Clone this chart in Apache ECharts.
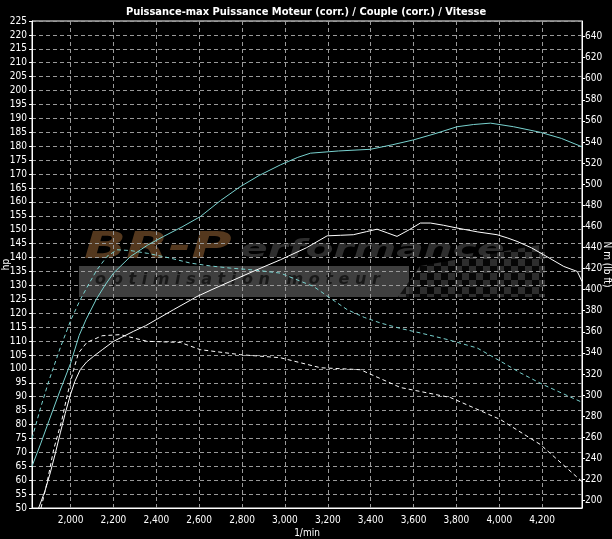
<!DOCTYPE html>
<html><head><meta charset="utf-8">
<script src="https://cdn.jsdelivr.net/npm/echarts@6/dist/echarts.min.js"></script>
<style>html,body{margin:0;padding:0;background:#000}#c{width:612px;height:539px}</style>
</head><body><div id="c"></div>
<script>
const titleText = 'Puissance-max Puissance Moteur (corr.) / Couple (corr.) / Vitesse';
const xName = '1/min';
const leftName = 'hp';
const rightName = 'N m (lb ft)';
const xTicks = [2000, 2200, 2400, 2600, 2800, 3000, 3200, 3400, 3600, 3800, 4000, 4200];
const rightTicks = [200, 220, 240, 260, 280, 300, 320, 340, 360, 380, 400, 420, 440, 460, 480, 500, 520, 540, 560, 580, 600, 620, 640];

// power-scale (left axis, hp) readings
const cyanSolidRpm = [1820, 1860, 1900, 1950, 2000, 2040, 2072, 2120, 2160, 2200, 2280, 2360, 2434, 2520, 2605, 2700, 2792, 2880, 2979, 3060, 3119, 3250, 3399, 3500, 3601, 3700, 3803, 3880, 3959, 4067, 4192, 4290, 4386];
const cyanSolidVal = [65, 73, 81.5, 92, 102, 112, 117.7, 125, 130, 134.4, 140.4, 144.5, 147.6, 151, 154.7, 160.5, 165.5, 169.5, 173.3, 176, 177.5, 178.3, 178.9, 180.5, 182.3, 184.5, 187, 187.8, 188.3, 187, 185, 182.8, 179.8];

const cyanDashRpm = [1820, 1860, 1900, 1952, 2002, 2045, 2085, 2123, 2170, 2217, 2280, 2360, 2465, 2559, 2650, 2745, 2860, 2979, 3050, 3134, 3210, 3290, 3370, 3445, 3540, 3632, 3760, 3897, 4000, 4100, 4200, 4300, 4386];
const cyanDashVal = [75, 86, 96, 107.6, 117.7, 124.8, 130.5, 135.6, 140.4, 142.8, 142.5, 141.5, 139.8, 138, 137, 136.2, 135.5, 134.4, 132.2, 129.6, 125.5, 121.3, 118.5, 116.5, 114.5, 112.9, 110.5, 107.5, 103, 98.5, 94.5, 91, 88];

const whiteSolidRpm = [1851, 1880, 1905, 1930, 1952, 1975, 1999, 2020, 2045, 2075, 2107, 2150, 2201, 2250, 2294, 2350, 2400, 2481, 2590, 2660, 2745, 2860, 2979, 3100, 3197, 3260, 3319, 3380, 3430, 3480, 3523, 3580, 3632, 3679, 3740, 3803, 3900, 3990, 4040, 4083, 4150, 4207, 4301, 4364, 4386];
const whiteSolidVal = [50, 56, 62.6, 70, 77, 84, 90.7, 95.5, 99.7, 102.5, 104.5, 107, 109.9, 111.8, 113.5, 115.5, 117.7, 121.3, 126, 128.5, 131.4, 135.3, 139.2, 143.5, 147.8, 148, 148.2, 149.3, 150.2, 148.8, 147.6, 150, 152.4, 152.4, 151.6, 150.6, 149.2, 148.2, 147, 145.8, 143.5, 141, 136.8, 135, 131.4];

const whiteDashRpm = [1862, 1890, 1921, 1960, 1983, 2014, 2037, 2076, 2147, 2232, 2294, 2357, 2512, 2605, 2792, 2979, 3166, 3352, 3539, 3772, 4005, 4192, 4386];
const whiteDashVal = [50, 59, 71, 81.8, 90.1, 99.7, 105.7, 109.5, 111.9, 112.3, 111.1, 109.9, 109.5, 106.9, 105.1, 104, 100.4, 99.7, 93.3, 89.7, 81.8, 72.8, 59.5];

const zip = (a, b) => a.map((v, i) => [v, b[i]]);
const F = "'Liberation Sans Narrow','DejaVu Sans Condensed','Liberation Sans',sans-serif";

// checkered pattern for the watermark flag
const pc = document.createElement('canvas');
pc.width = 14; pc.height = 14;
const g = pc.getContext('2d');
g.fillStyle = '#3a3a3a'; g.fillRect(0, 0, 14, 14);
g.fillStyle = '#080808'; g.fillRect(0, 0, 7, 7); g.fillRect(7, 7, 7, 7);

const chart = echarts.init(document.getElementById('c'), null, {renderer: 'canvas'});
const gridLine = {show: true, lineStyle: {color: '#9a9a9a', type: [4, 3], width: 1}};
chart.setOption({
  backgroundColor: '#000',
  animation: false,
  title: {text: titleText, left: 'center', top: 2, textStyle: {color: '#fff', fontFamily: F, fontSize: 11, fontWeight: 'bold'}},
  grid: {left: 32, right: 30, top: 21, bottom: 31, containLabel: false, outerBoundsMode: 'none',
    show: true, borderColor: '#fff', borderWidth: 1, backgroundColor: 'transparent'},
  graphic: [
    {type: 'text', x: 84, y: 229, scaleX: 1.45, z: -1, style: {text: 'BR-P', fill: 'rgba(105,70,38,0.8)', font: "italic bold 38px 'DejaVu Sans'"}},
    {type: 'text', x: 240, y: 239, scaleX: 1.7, z: -1, style: {text: 'erformance', fill: 'rgba(62,62,62,0.75)', font: "italic bold 24px 'DejaVu Sans'"}},
    {type: 'rect', shape: {x: 79, y: 266, width: 330, height: 31}, z: -1, style: {fill: 'rgba(90,90,90,0.7)'}},
    {type: 'polygon', shape: {points: [[420, 266], [545, 244], [545, 297], [398, 297]]}, z: -1, style: {fill: {image: pc, repeat: 'repeat'}, opacity: 0.8}},
    {type: 'text', x: 95, y: 272, z: -1, style: {text: 'o p t i m i s a t i o n   m o t e u r', fill: 'rgba(20,20,20,0.9)', font: "italic bold 16px 'DejaVu Sans'"}}
  ],
  xAxis: {
    type: 'value', min: 1820, max: 4386,
    name: xName, nameLocation: 'middle', nameGap: 20, nameMoveOverlap: false,
    nameTextStyle: {color: '#fff', fontFamily: F, fontSize: 10},
    axisLine: {show: true, lineStyle: {color: '#fff'}},
    axisTick: {show: false, customValues: xTicks},
    axisLabel: {color: '#fff', fontFamily: F, fontSize: 10, margin: 7, customValues: xTicks,
      formatter: v => v.toLocaleString('en-US')},
    splitLine: gridLine
  },
  yAxis: [
    {type: 'value', min: 50, max: 225, interval: 5, position: 'left',
      name: leftName, nameLocation: 'middle', nameGap: 21, nameRotate: 90, nameMoveOverlap: false,
      nameTextStyle: {color: '#fff', fontFamily: F, fontSize: 10},
      axisLine: {show: true, lineStyle: {color: '#fff'}},
      axisTick: {show: true, length: 3, lineStyle: {color: '#fff'}},
      axisLabel: {color: '#fff', fontFamily: F, fontSize: 10, margin: 5},
      splitLine: gridLine},
    {type: 'value', min: 192.9, max: 654.7, position: 'right',
      name: rightName, nameLocation: 'middle', nameGap: 20, nameRotate: -90, nameMoveOverlap: false,
      nameTextStyle: {color: '#fff', fontFamily: F, fontSize: 10},
      axisLine: {show: true, lineStyle: {color: '#fff'}},
      axisTick: {show: true, length: 3, lineStyle: {color: '#fff'}, customValues: rightTicks},
      axisLabel: {color: '#fff', fontFamily: F, fontSize: 10, margin: 3, customValues: rightTicks},
      splitLine: {show: false}}
  ],
  series: [
    {type: 'line', name: 'Puissance', data: zip(cyanSolidRpm, cyanSolidVal), showSymbol: false, lineStyle: {color: '#79d3d0', width: 1}},
    {type: 'line', name: 'Puissance origine', data: zip(cyanDashRpm, cyanDashVal), showSymbol: false, lineStyle: {color: '#79d3d0', width: 1, type: [4, 3]}},
    {type: 'line', name: 'Couple', data: zip(whiteSolidRpm, whiteSolidVal), showSymbol: false, lineStyle: {color: '#ffffff', width: 1}},
    {type: 'line', name: 'Couple origine', data: zip(whiteDashRpm, whiteDashVal), showSymbol: false, lineStyle: {color: '#ffffff', width: 1, type: [4, 3]}}
  ]
});
</script>
</body></html>
